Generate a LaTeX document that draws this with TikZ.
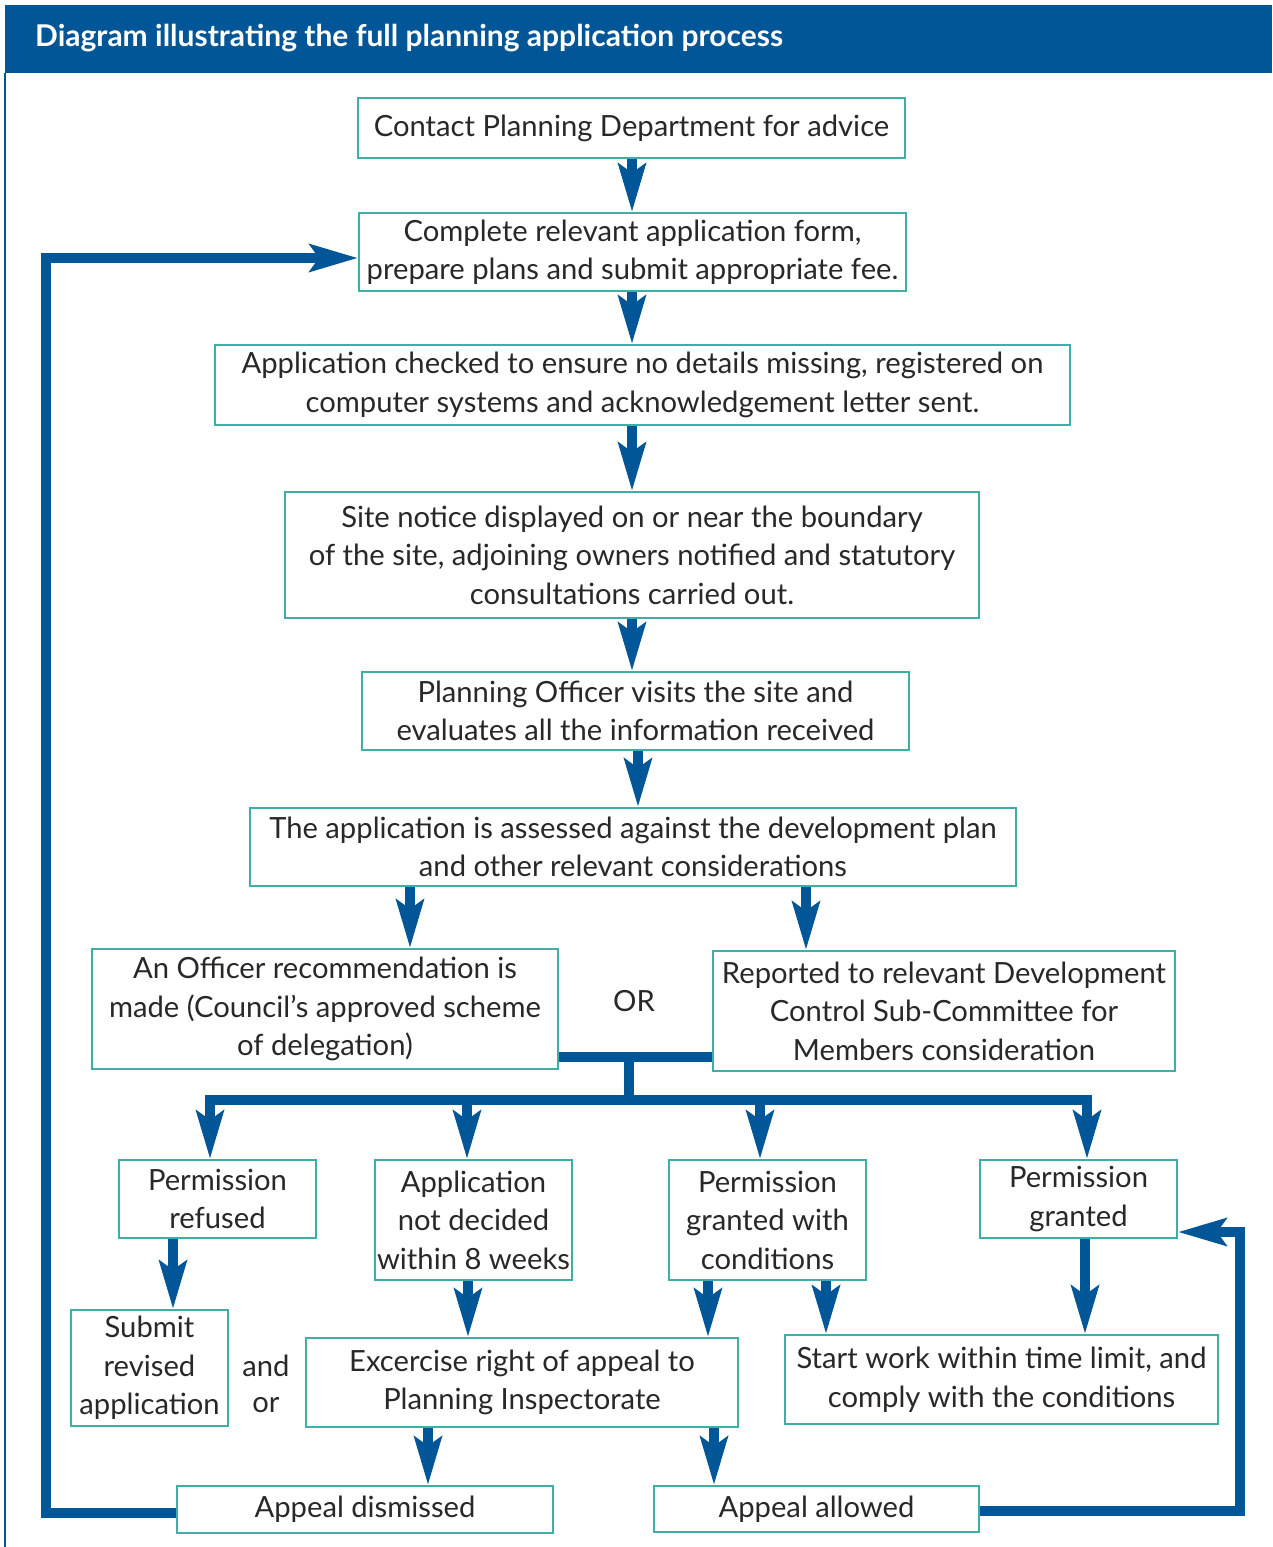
\documentclass[tikz,border=0pt]{standalone}
\usepackage{fontspec}
\setmainfont{Lato}
\usetikzlibrary{arrows.meta}
\definecolor{pblue}{RGB}{0,86,150}
\definecolor{pteal}{RGB}{64,174,168}
\definecolor{ptext}{RGB}{40,40,40}
\tikzset{
  box/.style={draw=pteal, line width=1.8pt, fill=white, align=center, inner sep=0pt,
    text=ptext, font=\fontsize{29.2}{38.5}\selectfont},
  lbl/.style={text=ptext, font=\fontsize{29.2}{38.5}\selectfont, inner sep=0pt},
  conn/.style={draw=pblue, line width=10pt},
  arr/.style={conn, -{Stealth[length=48pt,width=27pt,inset=9pt]}},
}
\begin{document}
\begin{tikzpicture}[x=1pt,y=-1pt]
\useasboundingbox (0,0) rectangle (1272,1547);
\fill[white] (0,0) rectangle (1272,1547);
% header
\fill[pblue] (5,5) rectangle (1272,73);
\node[anchor=west, text=white, font=\fontsize{30}{32}\selectfont\bfseries, inner sep=0pt] (title) at (35,38) {Diagram illustrating the full planning application process};
\draw[pblue, line width=1.5pt] (5,73) -- (5,1547);

% boxes
\node[box, minimum width=547pt, minimum height=60pt] (n1) at (631.5,128) {Contact Planning Department for advice};
\node[box, minimum width=547pt, minimum height=78pt] (n2) at (632.5,252) {Complete relevant application form,\\prepare plans and submit appropriate fee.};
\node[box, minimum width=855pt, minimum height=80pt] (n3) at (642.5,385) {Application checked to ensure no details missing, registered on\\computer systems and acknowledgement letter sent.};
\node[box, minimum width=694pt, minimum height=126pt] (n4) at (632,555) {Site notice displayed on or near the boundary\\of the site, adjoining owners notified and statutory\\consultations carried out.};
\node[box, minimum width=547pt, minimum height=78pt] (n5) at (635.5,711) {Planning Officer visits the site and\\evaluates all the information received};
\node[box, minimum width=766pt, minimum height=78pt] (n6) at (633,847) {The application is assessed against the development plan\\and other relevant considerations};
\node[box, minimum width=466pt, minimum height=120pt] (n7) at (325,1009) {An Officer recommendation is\\made (Council’s approved scheme\\of delegation)};
\node[box, minimum width=462pt, minimum height=120pt] (n8) at (944,1011) {Reported to relevant Development\\Control Sub-Committee for\\Members consideration};
\node[box, minimum width=197pt, minimum height=78pt] (n9) at (217.5,1199) {Permission\\refused};
\node[box, minimum width=197pt, minimum height=120pt] (n10) at (473.5,1220) {Application\\not decided\\within 8 weeks};
\node[box, minimum width=197pt, minimum height=120pt] (n11) at (767.5,1220) {Permission\\granted with\\conditions};
\node[box, minimum width=197pt, minimum height=78pt] (n12) at (1078.5,1199) {Permission\\granted};
\node[box, minimum width=157pt, minimum height=116pt] (n13) at (149.5,1368) {Submit\\revised\\application};
\node[box, minimum width=432pt, minimum height=89pt] (n14) at (522,1382.5) {Excercise right of appeal to\\Planning Inspectorate};
\node[box, minimum width=433pt, minimum height=89pt] (n15) at (1001.5,1379.5) {Start work within time limit, and\\comply with the conditions};
\node[box, minimum width=376pt, minimum height=47pt] (n16) at (365,1509.5) {Appeal dismissed};
\node[box, minimum width=325pt, minimum height=46pt] (n17) at (816.5,1509) {Appeal allowed};

% labels
\node[lbl] (or) at (634,1001) {OR};
\node[lbl] (and) at (266,1366) {and};
\node[lbl] (or2) at (266,1405) {or};

% vertical chain
\draw[arr] (n1.south -| 632,0) -- (n2.north -| 632,0);
\draw[arr] (n2.south -| 632,0) -- (n3.north -| 632,0);
\draw[arr] (n3.south -| 632,0) -- (n4.north -| 632,0);
\draw[arr] (n4.south -| 632,0) -- (n5.north -| 632,0);
\draw[arr] (n5.south -| 638,0) -- (n6.north -| 638,0);
\draw[arr] (n6.south -| 410,0) -- (n7.north -| 410,0);
\draw[arr] (n6.south -| 806,0) -- (n8.north -| 806,0);

% junction and bus
\coordinate (jy) at (0,1057);
\coordinate (jm) at (629,1057);
\coordinate (bm) at (629,1100);
\coordinate (bL) at (210,1100);
\coordinate (bR) at (1087,1100);
\coordinate (b2) at (467,1100);
\coordinate (b3) at (760,1100);
\draw[conn] (n7.east |- jy) -- (n8.west |- jy);
\draw[conn] (jm) -- ([yshift=-5pt]bm);
\draw[arr] (bR) -- (bL) -- (n9.north -| bL);
\draw[arr] (bL) -- (bR) -- (n12.north -| bR);
\draw[arr] ([yshift=5pt]b2) -- (n10.north -| b2);
\draw[arr] ([yshift=5pt]b3) -- (n11.north -| b3);

% lower arrows
\draw[arr] (n9.south -| 173,0) -- (n13.north -| 173,0);
\draw[arr] (n10.south -| 468,0) -- (n14.north -| 468,0);
\draw[arr] (n11.south -| 708,0) -- (n14.north -| 708,0);
\draw[arr] (n11.south -| 826,0) -- (n15.north -| 826,0);
\draw[arr] (n12.south -| 1085,0) -- (n15.north -| 1085,0);
\draw[arr] (n14.south -| 428,0) -- (n16.north -| 428,0);
\draw[arr] (n14.south -| 714,0) -- (n17.north -| 714,0);

% loops
\coordinate (cL1) at (46,1513);
\coordinate (cL2) at (46,258);
\draw[arr] (n16.west |- cL1) -- (cL1) -- (cL2) -- (n2.west |- cL2);
\coordinate (cR1) at (1240,1511);
\coordinate (cR2) at (1240,1232);
\draw[arr] (n17.east |- cR1) -- (cR1) -- (cR2) -- (n12.east |- cR2);
\end{tikzpicture}
\end{document}
